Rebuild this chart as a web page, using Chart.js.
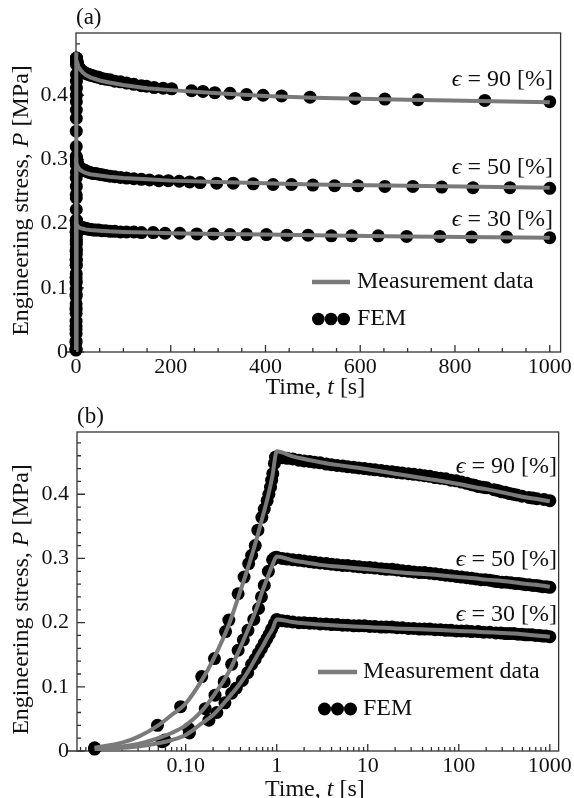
<!DOCTYPE html>
<html lang="en">
<head>
<meta charset="UTF-8"/>
<title>Stress relaxation: measurement vs FEM</title>
<script src="https://cdn.jsdelivr.net/npm/chart.js"></script>
<style>
  html, body { margin: 0; padding: 0; background: #fff; }
  .panel { position: absolute; left: 0; width: 574px; height: 399px; }
  #top { top: 0; }
  #bottom { top: 399px; }
</style>
</head>
<body>
<div class="panel" id="top"><canvas id="chartA"></canvas></div>
<div class="panel" id="bottom"><canvas id="chartB"></canvas></div>

<script>
// measurement data (gray lines), time in s, stress in MPa
const measT  = [0.01, 0.02, 0.03, 0.05, 0.07, 0.1, 0.15, 0.2, 0.3, 0.4, 0.5, 0.6, 0.7, 0.8, 0.9, 1, 1.5, 2, 3, 5, 7, 10, 15, 20, 30, 50, 70, 100, 150, 200, 300, 400, 500, 700, 1000];
const meas90 = [0.005, 0.013, 0.022, 0.040, 0.056, 0.074, 0.110, 0.142, 0.198, 0.250, 0.292, 0.330, 0.365, 0.396, 0.430, 0.467, 0.459, 0.455, 0.450, 0.445, 0.442, 0.439, 0.435, 0.432, 0.428, 0.423, 0.420, 0.416, 0.411, 0.408, 0.403, 0.399, 0.396, 0.393, 0.389];
const meas50 = [0.004, 0.007, 0.011, 0.020, 0.028, 0.040, 0.062, 0.085, 0.124, 0.162, 0.194, 0.222, 0.250, 0.272, 0.290, 0.303, 0.297, 0.294, 0.290, 0.287, 0.285, 0.283, 0.281, 0.279, 0.277, 0.275, 0.273, 0.271, 0.269, 0.267, 0.265, 0.263, 0.261, 0.259, 0.256];
const meas30 = [0.003, 0.005, 0.007, 0.012, 0.017, 0.025, 0.043, 0.056, 0.084, 0.106, 0.127, 0.147, 0.163, 0.178, 0.190, 0.205, 0.201, 0.199, 0.197, 0.195, 0.194, 0.193, 0.192, 0.191, 0.190, 0.189, 0.188, 0.187, 0.186, 0.185, 0.184, 0.183, 0.182, 0.180, 0.178];

// FEM output times: loading ramp, dense relaxation steps, sparse late steps
const relaxT  = [1, 1.15, 1.3, 1.5, 1.75, 2, 2.3, 2.6, 3, 3.5, 4, 4.6, 5.3, 6, 7, 8, 9.2, 10.5, 12, 14, 16, 18.5, 21, 24, 28, 32, 37, 42, 48, 55, 63, 72, 82, 94, 107, 122, 138];
const ramp90T = [0.01, 0.049, 0.088, 0.15, 0.207, 0.274, 0.298, 0.377, 0.438, 0.492, 0.53, 0.581, 0.621, 0.687, 0.73, 0.785, 0.82, 0.855, 0.88, 0.906, 0.944, 0.97];
const tail90T = [149, 165, 184, 202, 244, 268, 293, 325, 360, 395, 434, 494, 589, 652, 722, 863, 1000];
const ramp50T = [0.01, 0.059, 0.108, 0.164, 0.21, 0.265, 0.32, 0.377, 0.43, 0.483, 0.56, 0.632, 0.68, 0.73, 0.81, 0.9, 0.95];
const tail50T = [155, 175, 195, 218, 240, 262, 297, 332, 374, 416, 455, 500, 546, 595, 652, 711, 772, 838, 916, 1000];
const ramp30T = [0.01, 0.055, 0.11, 0.18, 0.22, 0.27, 0.32, 0.36, 0.42, 0.48, 0.53, 0.58, 0.63, 0.68, 0.73, 0.78, 0.83, 0.88, 0.94];
const tail30T = [163, 188, 219, 255, 290, 325, 360, 402, 445, 490, 539, 582, 638, 698, 768, 835, 909, 1000];

const fem90P = [0.005, 0.040, 0.069, 0.116, 0.144, 0.186, 0.204, 0.245, 0.271, 0.292, 0.305, 0.320, 0.344, 0.364, 0.377, 0.390, 0.400, 0.411, 0.422, 0.432, 0.448, 0.458,
  0.458, 0.457, 0.456, 0.455, 0.453, 0.452, 0.451, 0.450, 0.449, 0.447, 0.446, 0.445, 0.444, 0.443, 0.442, 0.441, 0.440, 0.439, 0.438, 0.437,
  0.436, 0.435, 0.434, 0.433, 0.432, 0.431, 0.430, 0.429, 0.428, 0.426, 0.425, 0.424, 0.422, 0.421, 0.419, 0.417, 0.415,
  0.414, 0.412, 0.411, 0.410, 0.407, 0.406, 0.404, 0.403, 0.401, 0.400, 0.399, 0.397, 0.395, 0.394, 0.393, 0.392, 0.390];
const fem50P = [0.004, 0.017, 0.035, 0.066, 0.087, 0.108, 0.135, 0.157, 0.173, 0.188, 0.205, 0.222, 0.240, 0.258, 0.280, 0.298, 0.301,
  0.302, 0.300, 0.299, 0.298, 0.297, 0.296, 0.295, 0.294, 0.293, 0.292, 0.291, 0.290, 0.289, 0.289, 0.288, 0.287, 0.286, 0.286, 0.285, 0.284,
  0.283, 0.283, 0.282, 0.281, 0.280, 0.279, 0.278, 0.278, 0.277, 0.276, 0.275, 0.274, 0.273, 0.272, 0.271, 0.270, 0.269,
  0.268, 0.267, 0.267, 0.266, 0.265, 0.264, 0.263, 0.263, 0.262, 0.261, 0.261, 0.260, 0.259, 0.259, 0.258, 0.258, 0.257, 0.256, 0.256, 0.255];
const fem30P = [0.003, 0.0145, 0.028, 0.048, 0.060, 0.075, 0.090, 0.098, 0.110, 0.122, 0.135, 0.143, 0.152, 0.160, 0.168, 0.175, 0.182, 0.190, 0.198,
  0.205, 0.203, 0.202, 0.201, 0.200, 0.200, 0.199, 0.199, 0.198, 0.198, 0.197, 0.197, 0.196, 0.196, 0.195, 0.195, 0.195, 0.194, 0.194, 0.193,
  0.193, 0.193, 0.192, 0.192, 0.191, 0.191, 0.190, 0.190, 0.190, 0.189, 0.189, 0.188, 0.188, 0.187, 0.187, 0.187, 0.186,
  0.186, 0.185, 0.185, 0.184, 0.184, 0.183, 0.183, 0.183, 0.182, 0.182, 0.181, 0.181, 0.181, 0.180, 0.180, 0.179, 0.179, 0.178];

const fem90T = ramp90T.concat(relaxT, tail90T);
const fem50T = ramp50T.concat(relaxT, tail50T);
const fem30T = ramp30T.concat(relaxT, tail30T);

const strains = ['90', '50', '30'];

// tick labels
const yLabels   = [0, 0.1, 0.2, 0.3, 0.4];
const xLabelsA  = [0, 200, 400, 600, 800, 1000];
const xLabelsB  = [0.1, 1, 10, 100, 1000];
const xTextB    = ['0.10', '1', '10', '100', '1000'];

const FONT = '"Liberation Serif", "DejaVu Serif", serif';
const INK = '#111';
const GRAY = '#7a7a7a';
const TXT = 24;

function pts(ts, ps) { return ts.map((t, i) => ({ x: t, y: ps[i] })); }

function datasets(smooth) {
  const fem = [[fem90T, fem90P], [fem50T, fem50P], [fem30T, fem30P]].map(([t, p]) => ({
    data: pts(t, p), showLine: false, pointRadius: 6.5, pointHoverRadius: 6.5,
    pointBackgroundColor: '#000', pointBorderWidth: 0, order: 2, clip: false
  }));
  const meas = [meas90, meas50, meas30].map(p => ({
    data: pts(measT, p), borderColor: GRAY, borderWidth: 4, pointRadius: 0,
    tension: 0, cubicInterpolationMode: smooth ? 'monotone' : 'default',
    order: 1, clip: false, fill: false
  }));
  return fem.concat(meas);
}

// text with some italic pieces: parts = [[text, italic], ...]
function richText(ctx, parts, x, y, align, size) {
  const w = parts.map(([t, it]) => {
    ctx.font = (it ? 'italic ' : '') + size + 'px ' + FONT;
    return ctx.measureText(t).width;
  });
  const total = w.reduce((a, b) => a + b, 0);
  let cx = align === 'center' ? x - total / 2 : align === 'right' ? x - total : x;
  ctx.textAlign = 'left';
  parts.forEach(([t, it], i) => {
    ctx.font = (it ? 'italic ' : '') + size + 'px ' + FONT;
    ctx.fillText(t, cx, y);
    cx += w[i];
  });
}

function decor(cfg) {
  return {
    id: 'decor',
    beforeDatasetsDraw(chart) {
      const { ctx, chartArea: a, scales: { x, y } } = chart;
      ctx.save();
      ctx.strokeStyle = '#333';
      ctx.lineWidth = 1.3;
      ctx.strokeRect(a.left, a.top, a.right - a.left, a.bottom - a.top);
      ctx.beginPath();
      cfg.yTicks.forEach(([v, major]) => {
        const p = y.getPixelForValue(v);
        if (p < a.top - 0.5) return;
        ctx.moveTo(a.left, p); ctx.lineTo(a.left + (major ? 8 : 4), p);
      });
      cfg.xTicks.forEach(([v, major]) => {
        const p = x.getPixelForValue(v);
        if (p < a.left - 0.5 || p > a.right + 0.5) return;
        ctx.moveTo(p, a.bottom); ctx.lineTo(p, a.bottom - (major ? 7 : 4));
      });
      ctx.moveTo(a.left - 9, a.bottom); ctx.lineTo(a.left, a.bottom);
      ctx.stroke();
      ctx.restore();
    },
    afterDraw(chart) {
      const { ctx, chartArea: a } = chart;
      ctx.save();
      ctx.fillStyle = INK;
      ctx.textBaseline = 'middle';

      // panel label
      ctx.font = '23px ' + FONT;
      ctx.textAlign = 'left';
      ctx.fillText(cfg.panel, a.left, 18);

      // axis titles
      richText(ctx, [['Time, ', false], ['t', true], [' [s]', false]], (a.left + a.right) / 2 - 3, cfg.xTitleY, 'center', TXT);
      ctx.save();
      ctx.translate(22, (a.top + a.bottom) / 2 + 8);
      ctx.rotate(-Math.PI / 2);
      richText(ctx, [['Engineering stress, ', false], ['P', true], [' [MPa]', false]], 0, 0, 'center', TXT);
      ctx.restore();

      // strain notes
      strains.forEach((s, i) => {
        richText(ctx, [['\u03F5', true], [' = ' + s + ' [%]', false]], cfg.noteX, cfg.noteY[i], 'right', TXT);
      });

      // legend
      const L = cfg.legend;
      ctx.strokeStyle = GRAY;
      ctx.lineWidth = 4.5;
      ctx.beginPath();
      ctx.moveTo(L.x0, L.y1); ctx.lineTo(L.x1, L.y1);
      ctx.stroke();
      const r = (L.x1 - L.x0) / 6;
      ctx.fillStyle = '#000';
      for (let k = 0; k < 3; k++) {
        ctx.beginPath();
        ctx.arc(L.x0 + r + 2 * r * k, L.y2, r, 0, Math.PI * 2);
        ctx.fill();
      }
      ctx.fillStyle = INK;
      ctx.font = TXT + 'px ' + FONT;
      ctx.textAlign = 'left';
      ctx.fillText('Measurement data', L.tx, L.y1);
      ctx.fillText('FEM', L.tx, L.y2);
      ctx.restore();
    }
  };
}

// tick marks (inward): major/minor lists
const yTicks = [];
for (let i = 0; i <= 25; i++) yTicks.push([i * 0.02, i % 5 === 0]);
const xTicksA = [];
for (let i = 0; i <= 20; i++) xTicksA.push([i * 50, i % 4 === 0]);
const xTicksB = [];
for (let d = -3; d <= 3; d++) for (let m = 1; m <= 9; m++) xTicksB.push([m * Math.pow(10, d), m === 1]);

function yScale(width) {
  return {
    min: 0, max: 0.497,
    grid: { display: false, drawTicks: false },
    border: { display: false },
    afterBuildTicks: s => { s.ticks = yLabels.map(v => ({ value: v })); },
    afterFit: s => { s.width = width; },
    ticks: { color: INK, font: { family: FONT, size: 22 }, padding: 8, callback: v => String(v) }
  };
}

Chart.defaults.animation = false;

new Chart(document.getElementById('chartA'), {
  type: 'line',
  data: { datasets: datasets(false) },
  options: {
    responsive: true, maintainAspectRatio: false, events: [],
    layout: { padding: { top: 33, right: 13, left: 0, bottom: 0 } },
    plugins: { legend: { display: false }, tooltip: { enabled: false } },
    scales: {
      x: {
        type: 'linear', min: 0, max: 1023,
        grid: { display: false, drawTicks: false },
        border: { display: false },
        afterBuildTicks: s => { s.ticks = xLabelsA.map(v => ({ value: v })); },
        afterFit: s => { s.height = 47; },
        ticks: { color: INK, font: { family: FONT, size: 22 }, padding: 2, maxRotation: 0, autoSkip: false,
                 callback: v => String(v) }
      },
      y: yScale(76)
    }
  },
  plugins: [decor({
    panel: '(a)', xTitleY: 388, yTicks, xTicks: xTicksA,
    noteX: 553, noteY: [80, 168, 220],
    legend: { x0: 312, x1: 350, tx: 357, y1: 282, y2: 319 }
  })]
});

new Chart(document.getElementById('chartB'), {
  type: 'line',
  data: { datasets: datasets(true) },
  options: {
    responsive: true, maintainAspectRatio: false, events: [],
    layout: { padding: { top: 33, right: 10, left: 0, bottom: 0 } },
    plugins: { legend: { display: false }, tooltip: { enabled: false } },
    scales: {
      x: {
        type: 'logarithmic', min: 0.0064, max: 1250,
        grid: { display: false, drawTicks: false },
        border: { display: false },
        afterBuildTicks: s => { s.ticks = xLabelsB.map(v => ({ value: v })); },
        afterFit: s => { s.height = 47; },
        ticks: { color: INK, font: { family: FONT, size: 22 }, padding: 2, maxRotation: 0, autoSkip: false,
                 callback: (v, i) => xTextB[i] }
      },
      y: yScale(77)
    }
  },
  plugins: [decor({
    panel: '(b)', xTitleY: 391, yTicks, xTicks: xTicksB,
    noteX: 557, noteY: [68, 161, 216],
    legend: { x0: 318, x1: 357, tx: 363, y1: 273, y2: 310 }
  })]
});
</script>
</body>
</html>
